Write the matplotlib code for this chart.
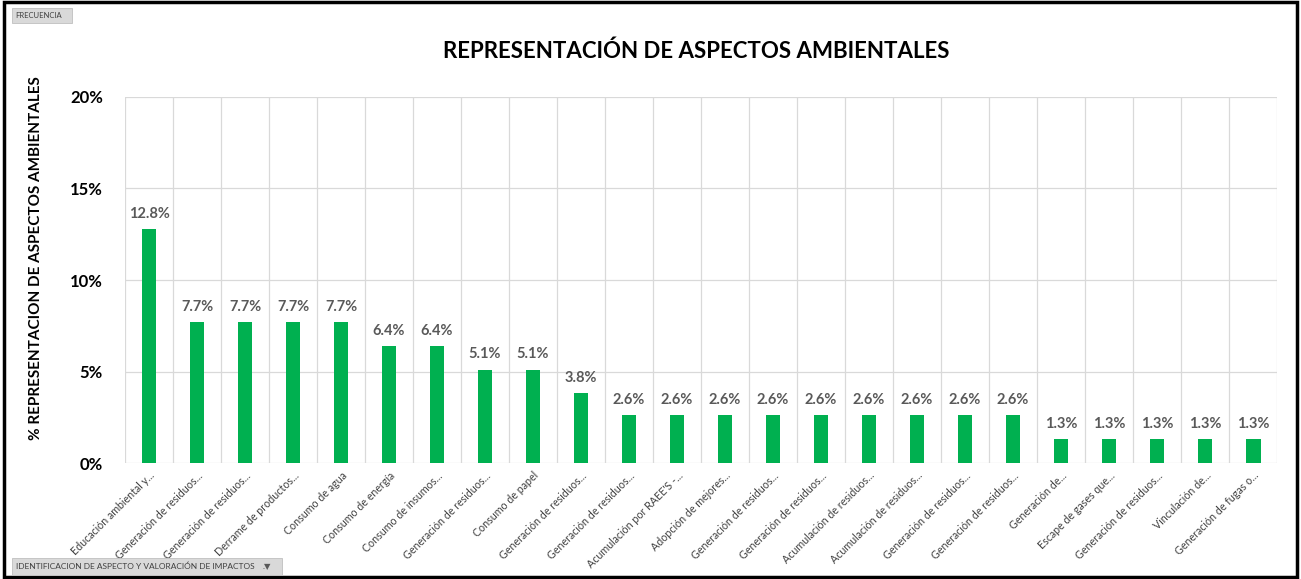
import matplotlib
matplotlib.use("Agg")
import matplotlib.pyplot as plt
import matplotlib.transforms as mtransforms
from matplotlib.patches import Rectangle
from matplotlib.ticker import FuncFormatter, MultipleLocator

categories = [
    "Educación ambiental y...",
    "Generación de residuos...",
    "Generación de residuos...",
    "Derrame de productos...",
    "Consumo de agua",
    "Consumo de energía",
    "Consumo de insumos...",
    "Generación de residuos...",
    "Consumo de papel",
    "Generación de residuos...",
    "Generación de residuos...",
    "Acumulación por RAEE'S -...",
    "Adopción de mejores...",
    "Generación de residuos...",
    "Generación de residuos...",
    "Acumulación de residuos...",
    "Acumulación de residuos...",
    "Generación de residuos...",
    "Generación de residuos...",
    "Generación de...",
    "Escape de gases que...",
    "Generación de residuos...",
    "Vinculación de...",
    "Generación de fugas o...",
]
values = [12.8, 7.7, 7.7, 7.7, 7.7, 6.4, 6.4, 5.1, 5.1, 3.8,
          2.6, 2.6, 2.6, 2.6, 2.6, 2.6, 2.6, 2.6, 2.6,
          1.3, 1.3, 1.3, 1.3, 1.3]

plt.rcParams["font.family"] = ["Lato", "DejaVu Sans"]

fig = plt.figure(figsize=(13.01, 5.79), dpi=100)
ax = fig.add_axes([0.0961, 0.2003, 0.8855, 0.6322])

x = list(range(len(values)))
ax.bar(x, values, width=0.31, color="#00B050", zorder=3)

for xi, v in zip(x, values):
    ax.text(xi, v + 0.45, f"{v:.1f}%", ha="center", va="bottom",
            fontsize=10.5, fontweight="bold", color="#595959")

ax.set_xlim(-0.5, len(values) - 0.5)
ax.set_ylim(0, 20)
ax.yaxis.set_major_locator(MultipleLocator(5))
ax.yaxis.set_major_formatter(FuncFormatter(lambda v, p: f"{v:.0f}%"))
ax.set_xticks(x)
ax.set_xticklabels(categories, rotation=45, ha="right", rotation_mode="anchor",
                   fontsize=7.7, color="#404040")
shift = mtransforms.ScaledTranslation(8 / 100, 0, fig.dpi_scale_trans)
for lbl in ax.get_xticklabels():
    lbl.set_transform(lbl.get_transform() + shift)
ax.set_xticks([i + 0.5 for i in range(-1, len(values))], minor=True)

ax.grid(axis="y", which="major", color="#D9D9D9", linewidth=0.9, zorder=0)
ax.grid(axis="x", which="minor", color="#D9D9D9", linewidth=0.9, zorder=0)
ax.tick_params(axis="x", which="both", length=0, pad=5)
ax.tick_params(axis="y", length=0, pad=16, labelsize=12)
for lbl in ax.get_yticklabels():
    lbl.set_fontweight("bold")
for s in ax.spines.values():
    s.set_visible(False)

ax.set_ylabel("% REPRESENTACION DE ASPECTOS AMBIENTALES", fontsize=11,
              fontweight="bold")
ax.yaxis.set_label_coords(-0.071, 0.56)

fig.text(0.535, 0.912, "REPRESENTACIÓN DE ASPECTOS AMBIENTALES", ha="center",
         va="center", fontsize=16, fontweight="bold")

# outer border
fig.patches.append(Rectangle((0.003, 0.003), 0.994, 0.994, transform=fig.transFigure,
                             fill=False, edgecolor="black", linewidth=2.5))

# field buttons
fig.patches.append(Rectangle((12 / 1301, 1 - 23 / 579), 60 / 1301, 15 / 579,
                             transform=fig.transFigure, facecolor="#D9D9D9",
                             edgecolor="#BFBFBF", linewidth=0.6))
fig.text(15 / 1301, 1 - 15.5 / 579, "FRECUENCIA", fontsize=5.5, va="center",
         color="#404040")
fig.patches.append(Rectangle((12 / 1301, 4 / 579), 270 / 1301, 17 / 579,
                             transform=fig.transFigure, facecolor="#D9D9D9",
                             edgecolor="#BFBFBF", linewidth=0.6))
fig.text(16 / 1301, 12.5 / 579, "IDENTIFICACION DE ASPECTO Y VALORACIÓN DE IMPACTOS",
         fontsize=6, va="center", color="#404040")
fig.text(267 / 1301, 12.5 / 579, ".\u25BC", fontsize=6, va="center", ha="center",
         color="#595959")

fig.savefig("out.png", dpi=100)
